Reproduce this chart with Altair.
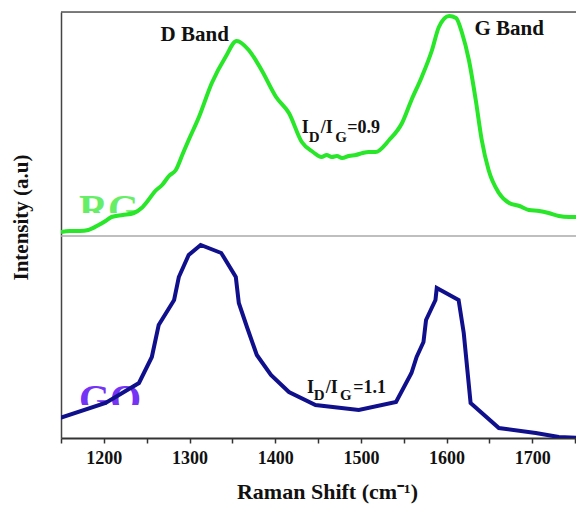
import altair as alt
import pandas as pd

# ---- data (arbitrary intensity units) ----
rgo_shift = [1150, 1160, 1172, 1182, 1194, 1202, 1209, 1222, 1235, 1244, 1252, 1260, 1268, 1276, 1284,
             1292, 1299, 1311, 1326, 1342, 1355, 1369, 1384, 1401, 1416, 1431, 1444, 1454, 1460, 1466,
             1472, 1478, 1486, 1494, 1502, 1509, 1517, 1533, 1548, 1559, 1571, 1583, 1591, 1603, 1611,
             1618, 1626, 1634, 1641, 1649, 1661, 1673, 1685, 1696, 1708, 1719, 1731, 1743, 1759]
rgo_int = [4, 5, 5, 6, 11, 15, 19, 21, 23, 28, 36, 45, 51, 60, 66,
           82, 96, 119, 153, 179, 195, 186, 166, 139, 123, 94, 84, 79, 81, 79,
           80, 78, 80, 81, 83, 84, 84, 96, 113, 136, 159, 186, 209, 220, 218,
           203, 176, 136, 96, 66, 43, 33, 30, 26, 25, 23, 20, 19, 19]
rgo_offset = 202

go_shift = [1149, 1202, 1241, 1256, 1264, 1282, 1287.5, 1299, 1313, 1337, 1354, 1357.5, 1367, 1378.5,
            1395, 1416, 1447, 1497.5, 1541, 1559, 1565, 1573, 1576, 1587, 1588.5, 1614, 1620, 1628,
            1661, 1704, 1731, 1759]
go_int = [20, 35, 55, 81, 113, 138, 161, 183, 193, 185, 161, 135, 111, 83,
          63, 46, 33, 28, 36, 65, 81, 96, 118, 138, 150, 138, 105, 35,
          10, 5, 1, 0]

x_ticks = [1150, 1200, 1250, 1300, 1350, 1400, 1450, 1500, 1550, 1600, 1650, 1700, 1750]

band_text = ["D Band", "G Band"]
band_shift = [1306, 1673]
band_int = [403, 409]

FONT = "Liberation Serif"

rgo = pd.DataFrame({"shift": rgo_shift, "val": [v + rgo_offset for v in rgo_int]})
go = pd.DataFrame({"shift": go_shift, "val": go_int})

xs = alt.Scale(domain=[1150, 1751], nice=False, zero=False)
ys = alt.Scale(domain=[0, 426], nice=False, zero=False)
xaxis = alt.Axis(values=x_ticks, labelExpr="datum.value % 100 == 0 ? datum.value : ''",
                 title="Raman Shift (cm⁻¹)", grid=False, tickSize=5, tickColor="#333",
                 domainColor="#333", domainWidth=2, tickWidth=1.5,
                 labelFont=FONT, labelFontSize=18, labelFontWeight="bold", labelColor="#111",
                 labelPadding=6, titleFont=FONT, titleFontSize=22, titleFontWeight="bold",
                 titleColor="#111", titlePadding=14, titleX=266)
yaxis = alt.Axis(title="Intensity (a.u)", ticks=False, labels=False, grid=False,
                 domainColor="#444", domainWidth=1.5, titleFont=FONT, titleFontSize=21,
                 titleFontWeight="bold", titleColor="#111", titlePadding=30, titleY=205)


def X(f):
    return alt.X(f, type="quantitative", scale=xs, axis=xaxis)


def Y(f):
    return alt.Y(f, type="quantitative", scale=ys, axis=yaxis)


# sample labels (partly hidden in the original)
lab = pd.DataFrame({"shift": [1171, 1171], "val": [216.5, 26.5], "t": ["RG", "GO"],
                    "c": ["#66ee66", "#7433f5"]})
labels = alt.Chart(lab).mark_text(font=FONT, fontSize=40, fontWeight="bold", align="left",
                                  baseline="alphabetic").encode(
    x=X("shift"), y=Y("val"), text="t:N", color=alt.Color("c:N", scale=None))

mask = pd.DataFrame({"shift": [1165, 1165], "shift2": [1252, 1252], "val": [202, 1], "val2": [225, 33]})
masks = alt.Chart(mask).mark_rect(color="white").encode(
    x=X("shift"), x2="shift2", y=Y("val"), y2="val2")

sep = alt.Chart(pd.DataFrame({"val": [rgo_offset]})).mark_rule(color="#aaaaaa", strokeWidth=1.5).encode(y=Y("val"))
top = alt.Chart(pd.DataFrame({"val": [426]})).mark_rule(color="#555555", strokeWidth=1.5).encode(y=Y("val"))

l_rgo = alt.Chart(rgo).mark_line(color="#28e628", strokeWidth=4, interpolate="monotone", clip=True).encode(
    x=X("shift"), y=Y("val"))
l_go = alt.Chart(go).mark_line(color="#10108c", strokeWidth=4, clip=True).encode(x=X("shift"), y=Y("val"))

bands = alt.Chart(pd.DataFrame({"shift": band_shift, "val": band_int, "t": band_text})).mark_text(
    font=FONT, fontSize=21, fontWeight="bold", color="#111", baseline="middle").encode(
    x=X("shift"), y=Y("val"), text="t:N")

# ratio annotations with subscripts
big = pd.DataFrame({"shift": [1431, 1453, 1484, 1437, 1459, 1491],
                    "val": [305, 305, 305, 45, 45, 45],
                    "t": ["I", "/I", "=0.9", "I", "/I", "=1.1"]})
small = pd.DataFrame({"shift": [1439, 1470, 1445, 1475.5],
                      "val": [296, 296, 38, 38],
                      "t": ["D", "G", "D", "G"]})
r_big = alt.Chart(big).mark_text(font=FONT, fontSize=18, fontWeight="bold", color="#111", align="left",
                                 baseline="alphabetic").encode(x=X("shift"), y=Y("val"), text="t:N")
r_small = alt.Chart(small).mark_text(font=FONT, fontSize=15, fontWeight="bold", color="#111", align="left",
                                     baseline="alphabetic").encode(x=X("shift"), y=Y("val"), text="t:N")

chart = alt.layer(labels, masks, sep, top, l_rgo, l_go, bands, r_big, r_small).properties(
    width=515, height=426,
    autosize=alt.AutoSizeParams(type="none"),
    padding={"left": 53, "top": 4, "right": 0, "bottom": 66},
).configure_view(stroke=None).configure(background="white")

chart.save("out.html", embed_options={"renderer": "svg", "actions": False})
